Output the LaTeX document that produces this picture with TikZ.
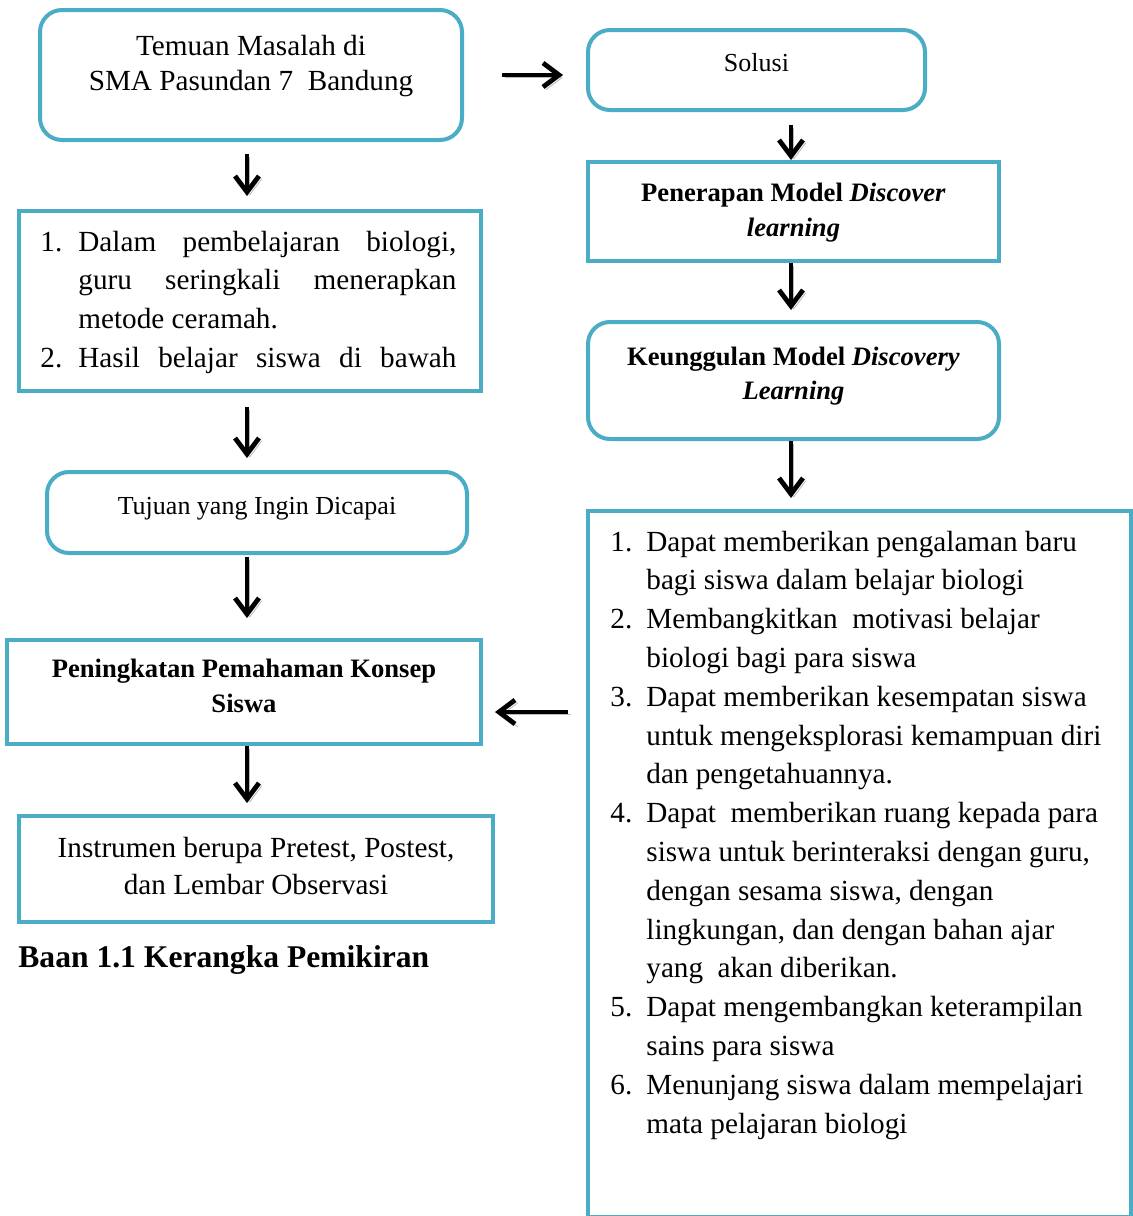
\documentclass[tikz,border=0pt]{standalone}
\usepackage{fontspec}
\setmainfont{Liberation Serif}
\usetikzlibrary{arrows.meta, calc}

\definecolor{boxblue}{RGB}{75,172,198}

\tikzset{
    rbox/.style = {draw = boxblue, line width = 2pt, rounded corners = 11pt, inner sep = 0pt},
    sbox/.style = {draw = boxblue, line width = 2pt, inner sep = 0pt},
    txt/.style = {inner sep = 0pt, anchor = base, font = \fontsize{14.6}{17.5}\selectfont},
    smalltxt/.style = {inner sep = 0pt, anchor = base, font = \fontsize{13}{16}\selectfont},
    boldtxt/.style = {inner sep = 0pt, anchor = base, font = \bfseries\fontsize{13.3}{17.5}\selectfont},
    listtxt/.style = {inner sep = 0pt, anchor = base west, font = \fontsize{14.6}{19.4}\selectfont},
    arr/.style = {line width = 2.4pt, -{Straight Barb[length = 8pt, width = 12pt]},
        preaction = {draw = gray!55, transform canvas = {xshift = 1.4pt, yshift = -1.4pt}}}
}

\begin{document}
\begin{tikzpicture}[x = 0.5pt, y = -0.5pt]

    \useasboundingbox (0,0) rectangle (1133,1216);

    % Coordinates
    \coordinate (lcol) at (247,0);
    \coordinate (rcol) at (791,0);
    \coordinate (lv) at (0,712);

    % Left column
    \node [rbox, minimum width = 211pt, minimum height = 65pt] (temuan) at (251,75) {};
    \node [txt] (temuan-t) at ($(temuan.north)+(0,47)$)
        {\begin{tabular}[t]{@{}c@{}}Temuan Masalah di\\SMA Pasundan 7\ \ Bandung\end{tabular}};

    \node [sbox, minimum width = 231pt, minimum height = 90pt] (masalah) at (250,301) {};
    \node [listtxt] (masalah-t) at ($(masalah.north west)+(23,42)$)
        {\begin{tabular}[t]{@{}p{19pt}@{}l@{}}
        1. & \makebox[189pt][s]{Dalam pembelajaran biologi,}\\
           & \makebox[189pt][s]{guru seringkali menerapkan}\\
           & metode ceramah.\\
        2. & \makebox[189pt][s]{Hasil belajar siswa di bawah}
        \end{tabular}};

    \node [rbox, minimum width = 210pt, minimum height = 40.5pt] (tujuan) at (257,512.5) {};
    \node [smalltxt] (tujuan-t) at ($(tujuan.north)+(0,44)$) {Tujuan yang Ingin Dicapai};

    \node [sbox, minimum width = 237pt, minimum height = 52pt] (pening) at (244,692) {};
    \node [boldtxt] (pening-t) at ($(pening.north)+(0,39)$)
        {\begin{tabular}[t]{@{}c@{}}Peningkatan Pemahaman Konsep\\Siswa\end{tabular}};

    \node [sbox, minimum width = 237pt, minimum height = 53pt] (instr) at (256,869) {};
    \node [txt, font = \fontsize{14.6}{18.5}\selectfont] (instr-t) at ($(instr.north)+(0,43)$)
        {\begin{tabular}[t]{@{}c@{}}Instrumen berupa Pretest, Postest,\\dan Lembar Observasi\end{tabular}};

    \node [inner sep = 0pt, anchor = base west, font = \bfseries\fontsize{15.8}{19}\selectfont] (caption) at (18,967)
        {Baan 1.1 Kerangka Pemikiran};

    % Right column
    \node [rbox, minimum width = 168.5pt, minimum height = 40pt] (solusi) at (756.5,70) {};
    \node [smalltxt] (solusi-t) at ($(solusi.north)+(0,43)$) {Solusi};

    \node [sbox, minimum width = 205.5pt, minimum height = 49.5pt] (penerapan) at (793.5,211.5) {};
    \node [boldtxt] (penerapan-t) at ($(penerapan.north)+(0,41)$)
        {\begin{tabular}[t]{@{}c@{}}Penerapan Model \textit{Discover}\\\textit{learning}\end{tabular}};

    \node [rbox, minimum width = 205.5pt, minimum height = 58.5pt] (unggul) at (793.5,380.5) {};
    \node [boldtxt, font = \bfseries\fontsize{13.3}{17}\selectfont] (unggul-t) at ($(unggul.north)+(0,45)$)
        {\begin{tabular}[t]{@{}c@{}}Keunggulan Model \textit{Discovery}\\\textit{Learning}\end{tabular}};

    \node [sbox, minimum width = 271.5pt, minimum height = 353pt] (kelebihan) at (859.5,864) {};
    \node [listtxt] (kelebihan-t) at ($(kelebihan.north west)+(24,42)$)
        {\begin{tabular}[t]{@{}p{18pt}@{}l@{}}
        1. & Dapat memberikan pengalaman baru\\
           & bagi siswa dalam belajar biologi\\
        2. & Membangkitkan\ \ motivasi belajar\\
           & biologi bagi para siswa\\
        3. & Dapat memberikan kesempatan siswa\\
           & untuk mengeksplorasi kemampuan diri\\
           & dan pengetahuannya.\\
        4. & Dapat\ \ memberikan ruang kepada para\\
           & siswa untuk berinteraksi dengan guru,\\
           & dengan sesama siswa, dengan\\
           & lingkungan, dan dengan bahan ajar\\
           & yang\ \ akan diberikan.\\
        5. & Dapat mengembangkan keterampilan\\
           & sains para siswa\\
        6. & Menunjang siswa dalam mempelajari\\
           & mata pelajaran biologi
        \end{tabular}};

    % Arrows
    \draw [arr, shorten <= 6pt, shorten >= 6.5pt] (temuan.south -| lcol) -- (masalah.north -| lcol);
    \draw [arr, shorten <= 7pt, shorten >= 6pt] (masalah.south -| lcol) -- (tujuan.north -| lcol);
    \draw [arr, shorten <= 1pt, shorten >= 10pt] (tujuan.south -| lcol) -- (pening.north -| lcol);
    \draw [arr, shorten >= 5.5pt] (pening.south -| lcol) -- (instr.north -| lcol);
    \draw [arr, shorten <= 19pt, shorten >= 11.5pt] (temuan.east) -- (temuan.east -| solusi.west);
    \draw [arr, shorten <= 6.5pt] (solusi.south -| rcol) -- (penerapan.north -| rcol);
    \draw [arr, shorten >= 5pt] (penerapan.south -| rcol) -- (unggul.north -| rcol);
    \draw [arr, shorten >= 5.5pt] (unggul.south -| rcol) -- (kelebihan.north -| rcol);
    \draw [arr, shorten <= 9pt, shorten >= 6pt] (kelebihan.west |- lv) -- (pening.east |- lv);

\end{tikzpicture}
\end{document}
